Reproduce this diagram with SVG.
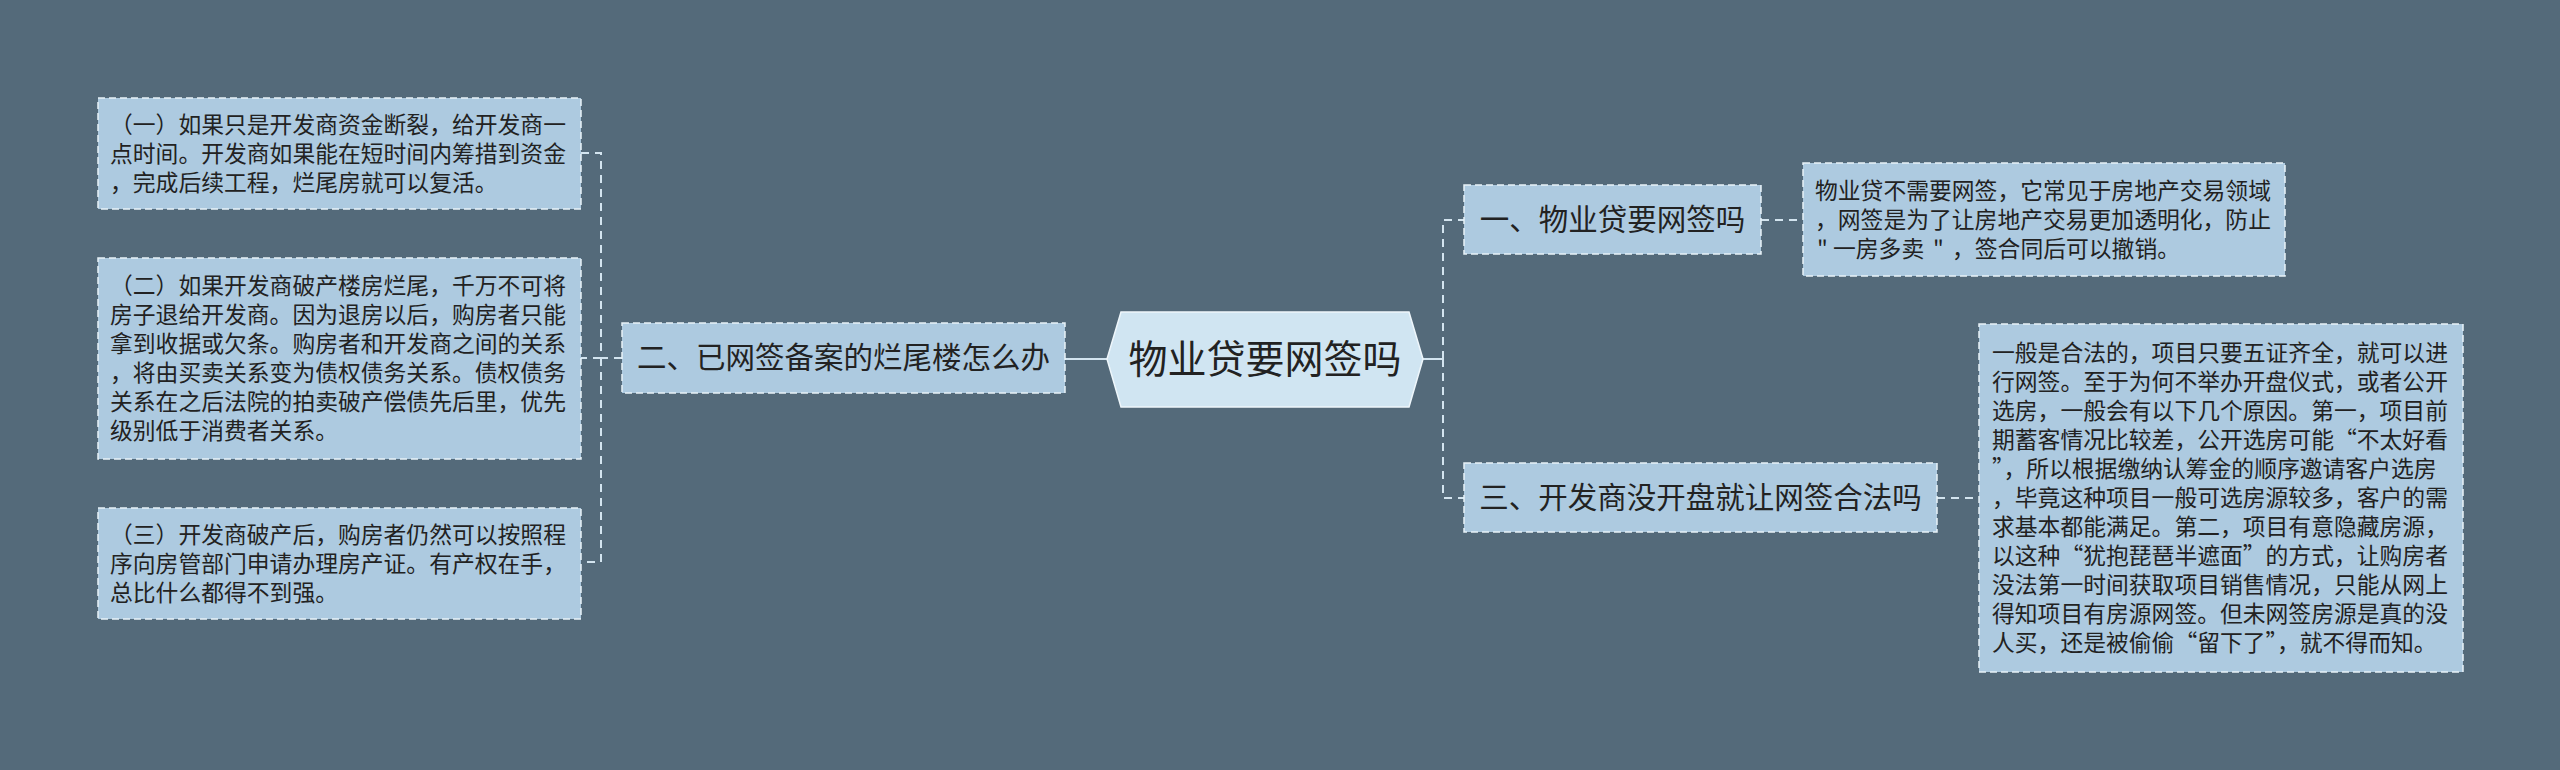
<svg xmlns="http://www.w3.org/2000/svg" width="2560" height="770" viewBox="0 0 2560 770">
<style>
.bg{fill:#546a7a}
.box{fill:#adcae0;stroke:#e8f2f8;stroke-width:1.5;stroke-dasharray:7 4}
.hub{fill:#d0e5f2;stroke:#eef6fb;stroke-width:1.5}
.t{font-family:"Microsoft YaHei","Noto Sans CJK SC",sans-serif;fill:#222;}
.s{font-size:22.8px}
.m{font-size:29.5px;text-anchor:middle}
.h{font-size:39px;text-anchor:middle}
.c{fill:none;stroke:#d3e4ef;stroke-width:2}
.d{stroke-dasharray:8 6}
</style>
<rect class="bg" x="0" y="0" width="2560" height="770"/>
<g id="connectors">
<path class="c" d="M1065 359 H1107" stroke-width="3"/>
<path class="c" d="M1423 359 H1443" stroke-width="3"/>
<path class="c d" d="M1443 359 V220 H1464"/>
<path class="c d" d="M1443 359 V498 H1464"/>
<path class="c d" d="M1761 220 H1803"/>
<path class="c d" d="M1937 498 H1979"/>
<path class="c d" d="M622 358 H601 V153 H581"/>
<path class="c d" d="M601 358 H581"/>
<path class="c d" d="M601 358 V562 H581"/>
</g>
<g id="center">
<polygon class="hub" points="1107,359 1121,312 1409,312 1423,359 1409,407 1121,407"/>
<text class="t h" x="1265" y="373">物业贷要网签吗</text>
</g>
<g id="n2">
<rect class="box" x="622" y="323" width="443" height="70"/>
<text class="t m" x="843.5" y="368">二、已网签备案的烂尾楼怎么办</text>
</g>
<g id="n1">
<rect class="box" x="1464" y="185" width="297" height="69"/>
<text class="t m" x="1612.5" y="230">一、物业贷要网签吗</text>
</g>
<g id="n3">
<rect class="box" x="1464" y="463" width="473" height="69"/>
<text class="t m" x="1700.5" y="508">三、开发商没开盘就让网签合法吗</text>
</g>
<g id="b1">
<rect class="box" x="98" y="98" width="483" height="111"/>
<text class="t s" x="110"><tspan x="110" y="133">（一）如果只是开发商资金断裂，给开发商一</tspan><tspan x="110" y="162">点时间。开发商如果能在短时间内筹措到资金</tspan><tspan x="110" y="191">，完成后续工程，烂尾房就可以复活。</tspan></text>
</g>
<g id="b2">
<rect class="box" x="98" y="258" width="483" height="201"/>
<text class="t s" x="110"><tspan x="110" y="294">（二）如果开发商破产楼房烂尾，千万不可将</tspan><tspan x="110" y="323">房子退给开发商。因为退房以后，购房者只能</tspan><tspan x="110" y="352">拿到收据或欠条。购房者和开发商之间的关系</tspan><tspan x="110" y="381">，将由买卖关系变为债权债务关系。债权债务</tspan><tspan x="110" y="410">关系在之后法院的拍卖破产偿债先后里，优先</tspan><tspan x="110" y="439">级别低于消费者关系。</tspan></text>
</g>
<g id="b3">
<rect class="box" x="98" y="508" width="483" height="111"/>
<text class="t s" x="110"><tspan x="110" y="543">（三）开发商破产后，购房者仍然可以按照程</tspan><tspan x="110" y="572">序向房管部门申请办理房产证。有产权在手，</tspan><tspan x="110" y="601">总比什么都得不到强。</tspan></text>
</g>
<g id="b4">
<rect class="box" x="1803" y="163" width="482" height="113"/>
<text class="t s" x="1815"><tspan x="1815" y="199">物业贷不需要网签，它常见于房地产交易领域</tspan><tspan x="1815" y="228">，网签是为了让房地产交易更加透明化，防止</tspan><tspan x="1817" y="257">"</tspan><tspan x="1833" y="257">一房多卖</tspan><tspan x="1933" y="257">"</tspan><tspan x="1952" y="257">，签合同后可以撤销。</tspan></text>
</g>
<g id="b5">
<rect class="box" x="1979" y="324" width="484" height="348"/>
<text class="t s" x="1992"><tspan x="1992" y="361">一般是合法的，项目只要五证齐全，就可以进</tspan><tspan x="1992" y="390">行网签。至于为何不举办开盘仪式，或者公开</tspan><tspan x="1992" y="419">选房，一般会有以下几个原因。第一，项目前</tspan><tspan x="1992" y="448">期蓄客情况比较差，公开选房可能“不太好看</tspan><tspan x="1992" y="477">”，所以根据缴纳认筹金的顺序邀请客户选房</tspan><tspan x="1992" y="506">，毕竟这种项目一般可选房源较多，客户的需</tspan><tspan x="1992" y="535">求基本都能满足。第二，项目有意隐藏房源，</tspan><tspan x="1992" y="564">以这种“犹抱琵琶半遮面”的方式，让购房者</tspan><tspan x="1992" y="593">没法第一时间获取项目销售情况，只能从网上</tspan><tspan x="1992" y="622">得知项目有房源网签。但未网签房源是真的没</tspan><tspan x="1992" y="651">人买，还是被偷偷“留下了”，就不得而知。</tspan></text>
</g>
</svg>
